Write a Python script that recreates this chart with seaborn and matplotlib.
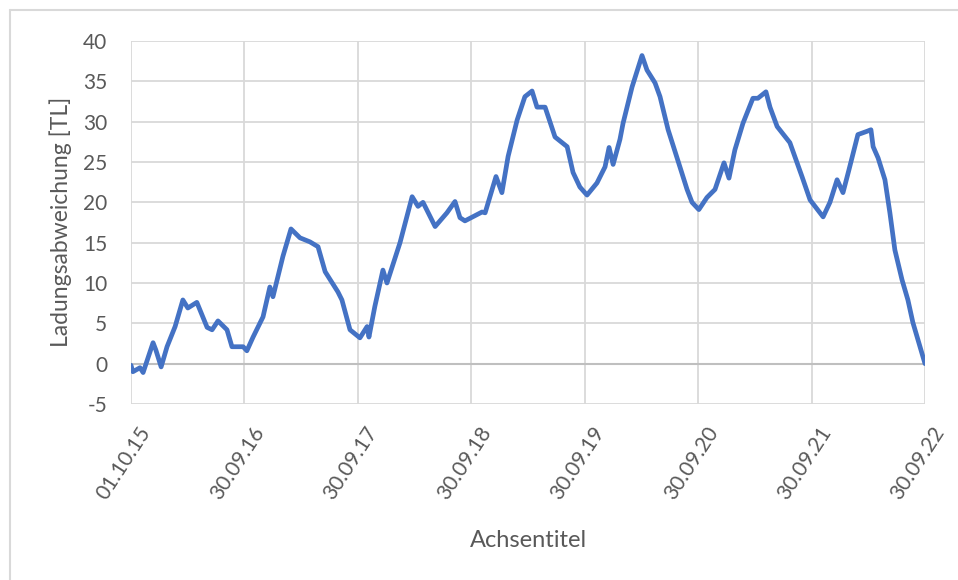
import seaborn as sns
import matplotlib.pyplot as plt
import matplotlib.transforms as mtransforms
from matplotlib.lines import Line2D
import pandas as pd

# ---------------------------------
# Data
# ---------------------------------
dates = [
    "2015-10-01", "2015-10-07", "2015-10-30", "2015-11-09", "2015-12-11", "2015-12-20",
    "2016-01-06", "2016-01-25", "2016-02-20", "2016-03-16", "2016-04-01", "2016-04-30",
    "2016-06-02", "2016-06-18", "2016-07-07", "2016-08-05", "2016-08-21", "2016-09-26",
    "2016-10-08", "2016-10-28", "2016-11-29", "2016-12-21", "2016-12-31", "2017-02-01",
    "2017-02-27", "2017-03-28", "2017-04-29", "2017-05-25", "2017-06-17", "2017-07-28",
    "2017-08-10", "2017-09-05", "2017-10-07", "2017-10-30", "2017-11-05", "2017-11-24",
    "2017-12-20", "2018-01-02", "2018-02-13", "2018-03-24", "2018-04-12", "2018-04-28",
    "2018-06-06", "2018-07-14", "2018-08-09", "2018-08-25", "2018-09-10", "2018-11-04",
    "2018-11-14", "2018-12-19", "2019-01-07", "2019-01-27", "2019-02-25", "2019-03-22",
    "2019-04-14", "2019-04-30", "2019-05-26", "2019-06-27", "2019-08-05", "2019-08-24",
    "2019-09-15", "2019-10-08", "2019-11-09", "2019-12-05", "2019-12-18", "2019-12-31",
    "2020-01-22", "2020-02-01", "2020-03-01", "2020-04-02", "2020-04-18", "2020-05-14",
    "2020-05-30", "2020-06-25", "2020-08-02", "2020-08-25", "2020-09-10", "2020-10-02",
    "2020-10-28", "2020-11-23", "2020-12-22", "2021-01-07", "2021-01-26", "2021-02-21",
    "2021-03-25", "2021-04-10", "2021-05-06", "2021-05-19", "2021-06-11", "2021-07-22",
    "2021-08-30", "2021-09-25", "2021-11-06", "2021-11-28", "2021-12-21", "2022-01-09",
    "2022-01-28", "2022-02-26", "2022-03-27", "2022-04-09", "2022-04-16", "2022-05-02",
    "2022-05-24", "2022-06-09", "2022-06-25", "2022-07-18", "2022-08-06", "2022-08-22",
    "2022-09-30",
]
deviation = [
    -0.2, -1.0, -0.5, -1.1, 2.6, 1.7,
    -0.4, 2.1, 4.6, 7.9, 6.9, 7.6,
    4.5, 4.2, 5.3, 4.2, 2.1, 2.1,
    1.6, 3.3, 5.8, 9.5, 8.3, 13.3,
    16.7, 15.6, 15.1, 14.5, 11.4, 8.9,
    7.9, 4.2, 3.2, 4.6, 3.3, 7.1,
    11.6, 10.0, 15.0, 20.7, 19.5, 20.0,
    17.0, 18.7, 20.1, 18.1, 17.7, 18.8,
    18.7, 23.2, 21.2, 25.7, 30.2, 33.1,
    33.8, 31.8, 31.8, 28.1, 26.9, 23.7,
    21.9, 20.9, 22.4, 24.4, 26.8, 24.7,
    27.8, 29.8, 34.3, 38.2, 36.4, 34.8,
    33.1, 29.0, 24.4, 21.6, 20.0, 19.1,
    20.6, 21.6, 24.9, 23.0, 26.5, 29.8,
    32.9, 32.9, 33.7, 31.8, 29.4, 27.4,
    23.2, 20.3, 18.2, 20.0, 22.8, 21.2,
    24.0, 28.4, 28.8, 29.0, 26.9, 25.5,
    22.8, 18.7, 14.1, 10.4, 7.9, 5.1,
    0.0,
]
tick_dates = ["2015-10-01", "2016-09-30", "2017-09-30", "2018-09-30",
              "2019-09-30", "2020-09-30", "2021-09-30", "2022-09-30"]
tick_labels = ["01.10.15", "30.09.16", "30.09.17", "30.09.18",
               "30.09.19", "30.09.20", "30.09.21", "30.09.22"]
y_ticks = [-5, 0, 5, 10, 15, 20, 25, 30, 35, 40]

df = pd.DataFrame({"Datum": pd.to_datetime(dates), "Abweichung": deviation})

# -------------------------------
# Excel-like styling
# -------------------------------
sns.set_style("whitegrid")
plt.rcParams["font.family"] = ["Lato", "DejaVu Sans"]
plt.rcParams["axes.unicode_minus"] = False  # plain hyphen like Excel
text_grey = "#595959"
grid_grey = "#D9D9D9"

fig = plt.figure(figsize=(9.58, 5.8), dpi=100)
ax = fig.add_axes([131 / 958, 1 - 404 / 580, 794 / 958, 363 / 580])

sns.lineplot(data=df, x="Datum", y="Abweichung", ax=ax,
             color="#4472C4", linewidth=3.4)

ax.set_xlim(pd.Timestamp(tick_dates[0]), pd.Timestamp(tick_dates[-1]))
ax.set_ylim(-5, 40)
ax.set_yticks(y_ticks)
ax.set_xticks(pd.to_datetime(tick_dates))

ax.grid(True, color=grid_grey, linewidth=1.3)
ax.axhline(0, color="#BFBFBF", linewidth=1.5, zorder=1)
for s in ax.spines.values():
    s.set_visible(False)
ax.tick_params(axis="both", length=0, labelsize=15, labelcolor=text_grey)
ax.tick_params(axis="y", pad=17)
ax.tick_params(axis="x", pad=0)
ax.set_xlabel("")
ax.set_ylabel("")

# rotated date labels, shifted after tick_params so the shift is kept
ax.set_xticklabels(tick_labels, rotation=57, ha="right", va="top",
                   rotation_mode="anchor")
offset = mtransforms.ScaledTranslation(7 / 100, -19 / 100, fig.dpi_scale_trans)
for lbl in ax.get_xticklabels():
    lbl.set_transform(lbl.get_transform() + offset)

fig.text(61 / 958, 1 - 222 / 580, "Ladungsabweichung [TL]", rotation=90,
         ha="center", va="center", fontsize=16.5, color=text_grey)
fig.text(528 / 958, 1 - 547 / 580, "Achsentitel",
         ha="center", va="baseline", fontsize=17, color=text_grey)

# chart-area frame (only the top and left edges are inside the picture)
fig.add_artist(Line2D([10 / 958, 10 / 958], [0, 1 - 10 / 580],
                      transform=fig.transFigure, color=grid_grey, linewidth=1.5))
fig.add_artist(Line2D([10 / 958, 1], [1 - 10 / 580, 1 - 10 / 580],
                      transform=fig.transFigure, color=grid_grey, linewidth=1.5))

plt.savefig("out.png", dpi=100)
